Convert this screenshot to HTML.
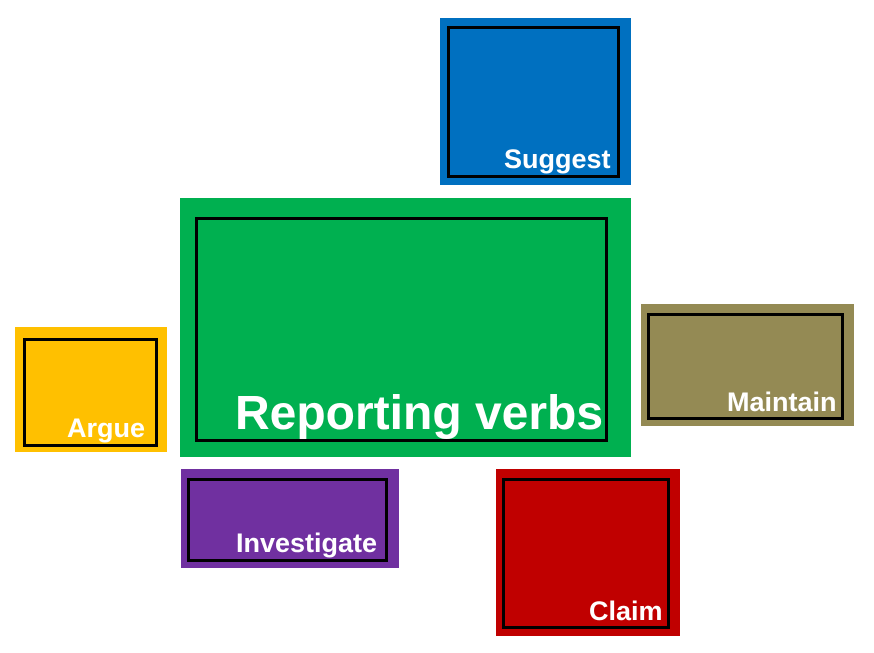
<!DOCTYPE html>
<html><head><style>
body{margin:0;width:874px;height:653px;background:#fff;position:relative;overflow:hidden;font-family:"Liberation Sans",Arial,sans-serif}
.o{position:absolute}
.i{position:absolute;border:3px solid #000;box-sizing:border-box}
.t{position:absolute;color:#fff;font-weight:bold;white-space:nowrap;line-height:1}
</style></head><body>
<div class="o" style="left:440px;top:18px;width:191px;height:167px;background:#0070c0"></div>
<div class="i" style="left:447px;top:26px;width:173px;height:152px"></div>
<div class="t" style="left:504px;top:146px;font-size:27px">Suggest</div>

<div class="o" style="left:180px;top:198px;width:451px;height:259px;background:#00b050"></div>
<div class="i" style="left:195px;top:217px;width:413px;height:225px"></div>
<div class="t" style="left:235px;top:390px;font-size:48px">Reporting verbs</div>

<div class="o" style="left:641px;top:304px;width:213px;height:122px;background:#948a54"></div>
<div class="i" style="left:647px;top:313px;width:197px;height:107px"></div>
<div class="t" style="left:727px;top:389px;font-size:27px">Maintain</div>

<div class="o" style="left:15px;top:327px;width:152px;height:125px;background:#ffc000"></div>
<div class="i" style="left:23px;top:338px;width:135px;height:109px"></div>
<div class="t" style="left:67px;top:415px;font-size:27px">Argue</div>

<div class="o" style="left:181px;top:469px;width:218px;height:99px;background:#7030a0"></div>
<div class="i" style="left:187px;top:478px;width:201px;height:84px"></div>
<div class="t" style="left:236px;top:530px;font-size:27px">Investigate</div>

<div class="o" style="left:496px;top:469px;width:184px;height:167px;background:#c00000"></div>
<div class="i" style="left:502px;top:478px;width:168px;height:151px"></div>
<div class="t" style="left:589px;top:598px;font-size:27px">Claim</div>
</body></html>
